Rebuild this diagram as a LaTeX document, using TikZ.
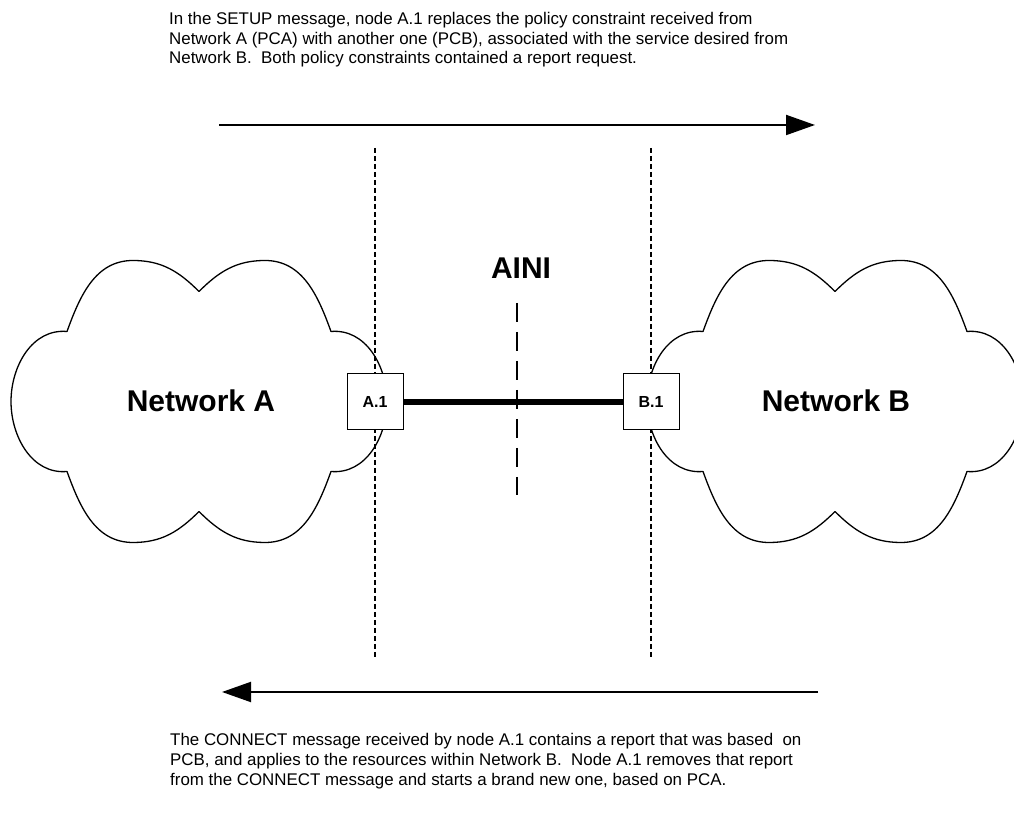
\documentclass[tikz,border=0pt]{standalone}
\usepackage{fontspec}
\setmainfont{Liberation Sans}
\usetikzlibrary{arrows.meta}
\tikzset{
  x=1pt, y=1pt,
  cloudline/.style={line width=1.3pt, line join=round},
  netlabel/.style={font=\fontsize{30}{36}\selectfont\bfseries, inner sep=0pt, anchor=base},
  nodebox/.style={draw, fill=white, line width=1pt, minimum size=56pt, inner sep=0pt, font=\fontsize{16}{19}\selectfont\bfseries},
  caption/.style={font=\fontsize{16.9}{20}\selectfont, inner sep=0pt, anchor=base west},
  boundary/.style={line width=1.3pt, dash pattern=on 5pt off 3pt},
  ainiline/.style={line width=1.8pt, dash pattern=on 19pt off 10pt},
  link/.style={line width=5.5pt},
  flow/.style={line width=2pt, -{Triangle[length=29pt,width=20pt]}},
  netcloud/.pic={
    \draw[cloudline] (-132,-70) to[out=185,in=270] (-188,0) to[out=90,in=175] (-132,70)
      to[out=70,in=180] (-66,141) to[out=0,in=135] (0,110)
      to[out=45,in=180] (66,141) to[out=0,in=110] (132,70)
      to[out=5,in=90] (188,0) to[out=270,in=355] (132,-70)
      to[out=250,in=0] (66,-141) to[out=180,in=315] (0,-110)
      to[out=225,in=0] (-66,-141) to[out=180,in=290] (-132,-70) -- cycle;
  }
}
\begin{document}
\begin{tikzpicture}
\useasboundingbox (0,0) rectangle (1014,818);
\begin{scope}
  \clip (0,0) rectangle (1014,818);
  \pic at (199,416.5) {netcloud};
  \pic at (835,416.5) {netcloud};
\end{scope}
\node[netlabel] (netA) at (201,406) {Network A};
\node[netlabel] (netB) at (836,406) {Network B};
\node[netlabel] (aini) at (521,539) {AINI};

\coordinate (bAtop) at (375,670);
\coordinate (bAbot) at (375,161);
\coordinate (bBtop) at (651,670);
\coordinate (bBbot) at (651,161);
\draw[boundary] (bAtop) -- (bAbot);
\draw[boundary] (bBtop) -- (bBbot);

\coordinate (aitop) at (517,515);
\coordinate (aibot) at (517,323);
\draw[ainiline] (aitop) -- (aibot);

\node[nodebox] (A1) at (375,416) {A.1};
\node[nodebox] (B1) at (651,416) {B.1};
\draw[link] (A1.east) -- (B1.west);

\coordinate (fwdS) at (219,693);
\coordinate (fwdE) at (815,693);
\draw[flow] (fwdS) -- (fwdE);
\coordinate (bwdS) at (818,126);
\coordinate (bwdE) at (222,126);
\draw[flow] (bwdS) -- (bwdE);

\node[caption] (t1) at (169,793) {In the SETUP message, node A.1 replaces the policy constraint received from};
\node[caption] (t2) at (169,773.5) {Network A (PCA) with another one (PCB), associated with the service desired from};
\node[caption] (t3) at (169,754) {Network B.\ \ Both policy constraints contained a report request.};

\node[caption] (b1) at (170,72) {The CONNECT message received by node A.1 contains a report that was based\ \ on};
\node[caption] (b2) at (170,52) {PCB, and applies to the resources within Network B.\ \ Node A.1 removes that report};
\node[caption] (b3) at (170,32) {from the CONNECT message and starts a brand new one, based on PCA.};
\end{tikzpicture}
\end{document}
